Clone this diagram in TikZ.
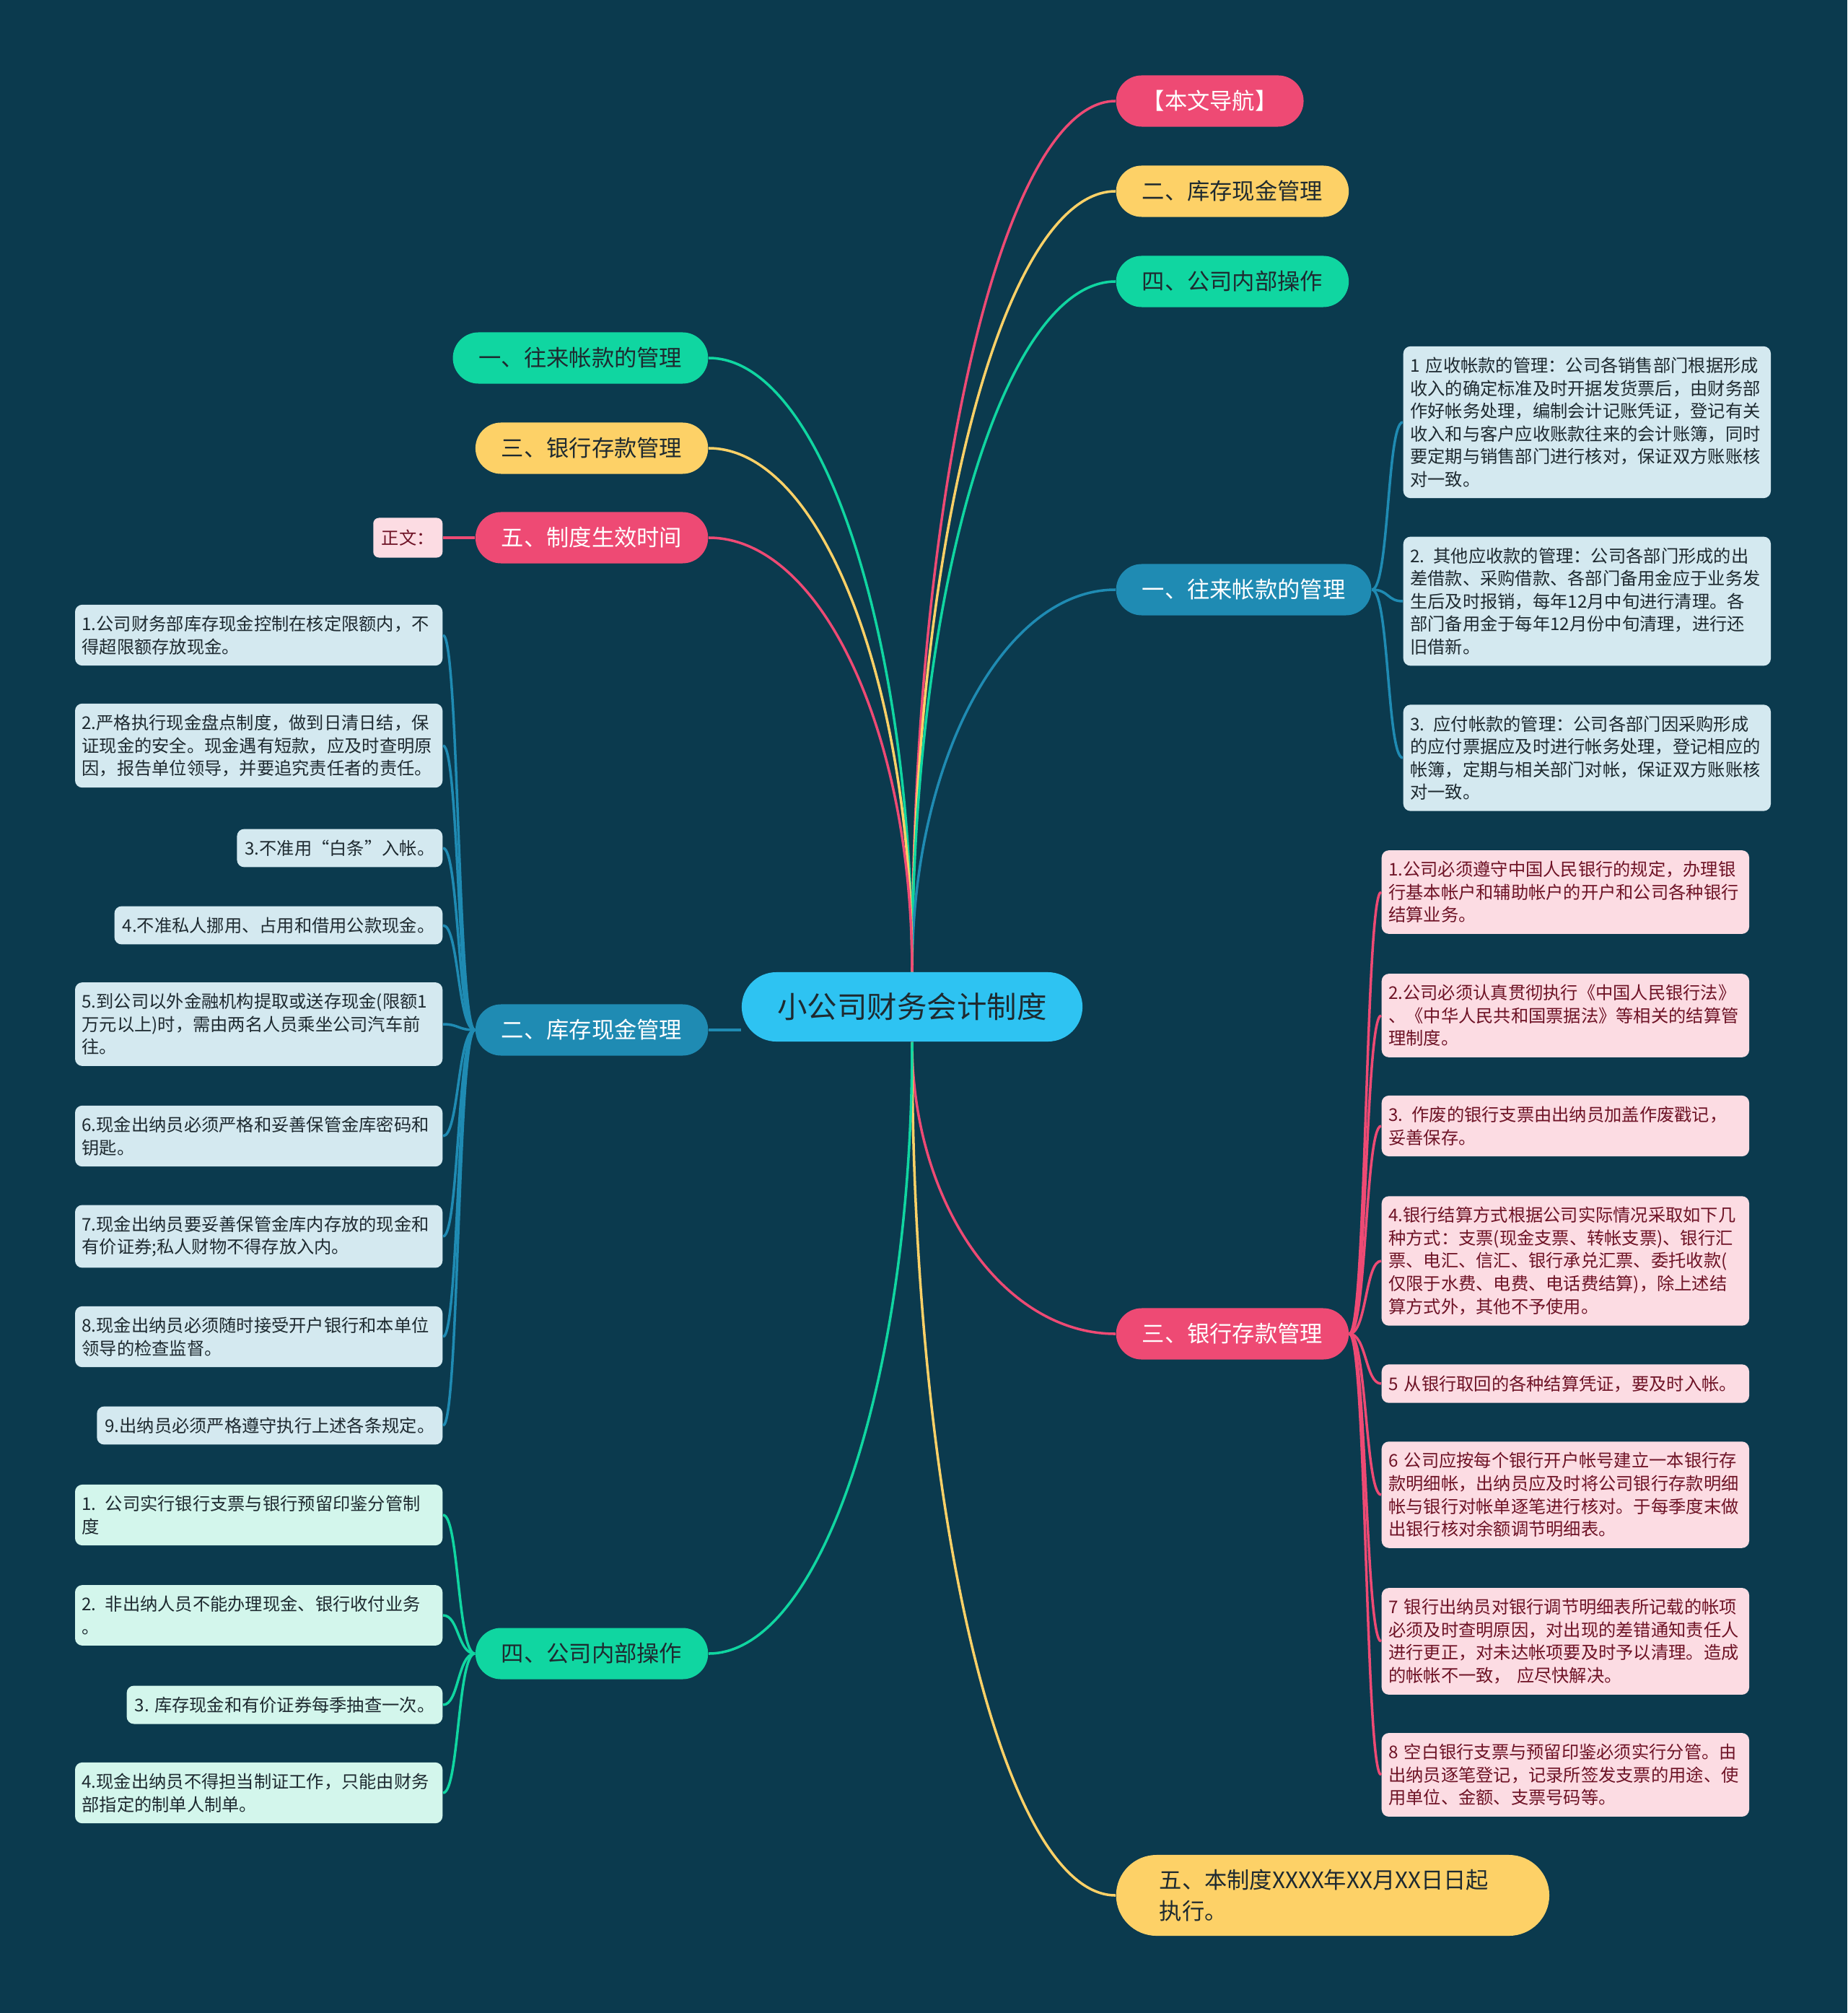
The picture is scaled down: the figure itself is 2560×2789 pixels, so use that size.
\documentclass[tikz,border=0pt]{standalone}
\usepackage{fontspec}
\setmainfont{Noto Sans CJK SC}
\usepackage{tikz}
\usetikzlibrary{calc,positioning}
\definecolor{bgC}{HTML}{0B3A4E}
\definecolor{rootC}{HTML}{2EC3F2}
\definecolor{pinkC}{HTML}{EE4A74}
\definecolor{yellowC}{HTML}{FDD167}
\definecolor{greenC}{HTML}{10D6A1}
\definecolor{blueC}{HTML}{1F8BB3}
\definecolor{leafB}{HTML}{D4E9F0}
\definecolor{leafP}{HTML}{FCDCE3}
\definecolor{leafG}{HTML}{D3F6EC}
\definecolor{inkD}{HTML}{1E2A30}
\definecolor{inkR}{HTML}{6E1326}

\begin{document}
\begin{tikzpicture}[x=0.01cm,y=-0.01cm,
  wire/.style={draw=#1,line width=1pt},
  root/.style={fill=rootC,text=inkD,rounded corners=0.48cm,minimum height=0.96cm,minimum width=4.72cm,
               font=\fontsize{11.8}{14}\selectfont},
  topic/.style={fill=#1,text=inkD,rounded corners=0.355cm,minimum height=0.71cm,inner xsep=0.36cm,
                inner ysep=0pt,font=\fontsize{8.9}{11}\selectfont},
  leaf/.style={fill=#1,rounded corners=0.1cm,text width=4.9cm,align=left,inner xsep=0.095cm,
               inner ysep=4.3pt,font=\fontsize{6.9}{8.96}\selectfont},
  twig/.style={fill=#1,rounded corners=0.1cm,align=left,inner xsep=0.11cm,inner ysep=4.3pt,
               font=\fontsize{6.9}{8.96}\selectfont}]
  \fill[bgC] (0,0) rectangle (2560,2789);
  \useasboundingbox (0,0) rectangle (2560,2789);
  \node[root] (C) at (1264,1395) {小公司财务会计制度};
  % right side
  \node[topic=pinkC,text=white,anchor=west] (nav) at (1546,140) {【本文导航】};
  \node[topic=yellowC,anchor=west] (R2) at (1546,265) {二、库存现金管理};
  \node[topic=greenC,anchor=west] (R4) at (1546,390) {四、公司内部操作};
  \node[topic=blueC,text=white,anchor=west] (R1) at (1546,817) {一、往来帐款的管理};
  \node[topic=pinkC,text=white,anchor=west] (R3) at (1546,1848) {三、银行存款管理};
  \node[topic=yellowC,anchor=west,text width=4.8cm,align=left,rounded corners=0.56cm,minimum height=1.12cm,
        inner xsep=0.6cm,font=\fontsize{8.9}{12.2}\selectfont] (R5) at (1546,2626)
        {五、本制度XXXX年XX月XX日日起\\执行。};
  % left side
  \node[topic=greenC,anchor=east] (L1) at (982,496) {一、往来帐款的管理};
  \node[topic=yellowC,anchor=east] (L3) at (982,621) {三、银行存款管理};
  \node[topic=pinkC,text=white,anchor=east] (L5) at (982,745) {五、制度生效时间};
  \node[topic=blueC,text=white,anchor=east] (L2) at (982,1427) {二、库存现金管理};
  \node[topic=greenC,anchor=east] (L4) at (982,2291) {四、公司内部操作};
  \node[twig=leafP,text=inkR,anchor=east,minimum width=0.96cm,minimum height=0.55cm,rounded corners=0.08cm]
        (zw) at (614,745) {正文：};
  % trunk
  \foreach \nd/\col/\sa/\ea in {nav/pinkC/north/west,R2/yellowC/north/west,R4/greenC/north/west,
      R1/blueC/north/west,L1/greenC/north/east,L3/yellowC/north/east,L5/pinkC/north/east,
      R3/pinkC/south/west,R5/yellowC/south/west,L4/greenC/south/east}{
    \coordinate (s) at (C.\sa);
    \coordinate (e) at (\nd.\ea);
    \draw[wire=\col] (s) .. controls ($(s)!0.552!(s |- e)$) and ($(e)!0.552!(s |- e)$) .. (e);
  }
  \draw[wire=blueC] (L2.east) -- (L2.east -| C.west);
  \draw[wire=pinkC] (zw.east) -- (L5.west);
  % accounts
  \node[leaf=leafB,text=inkD,anchor=west] (r1) at (1944,585) {1 应收帐款的管理：公司各销售部门根据形成\\收入的确定标准及时开据发货票后，由财务部\\作好帐务处理，编制会计记账凭证，登记有关\\收入和与客户应收账款往来的会计账簿，同时\\要定期与销售部门进行核对，保证双方账账核\\对一致。};
  \node[leaf=leafB,text=inkD,anchor=west] (r2) at (1944,833) {2. 其他应收款的管理：公司各部门形成的出\\差借款、采购借款、各部门备用金应于业务发\\生后及时报销，每年12月中旬进行清理。各\\部门备用金于每年12月份中旬清理，进行还\\旧借新。};
  \node[leaf=leafB,text=inkD,anchor=west] (r3) at (1944,1050) {3. 应付帐款的管理：公司各部门因采购形成\\的应付票据应及时进行帐务处理，登记相应的\\帐簿，定期与相关部门对帐，保证双方账账核\\对一致。};
  \foreach \k in {r1,r2,r3} \draw[wire=blueC] (R1.east) .. controls +(24,0) and +(-22,0) .. (\k.west);
  % bank
  \node[leaf=leafP,text=inkR,anchor=west] (b1) at (1914,1236) {1.公司必须遵守中国人民银行的规定，办理银\\行基本帐户和辅助帐户的开户和公司各种银行\\结算业务。};
  \node[leaf=leafP,text=inkR,anchor=west] (b2) at (1914,1407) {2.公司必须认真贯彻执行《中国人民银行法》\\、《中华人民共和国票据法》等相关的结算管\\理制度。};
  \node[leaf=leafP,text=inkR,anchor=west] (b3) at (1914,1560) {3. 作废的银行支票由出纳员加盖作废戳记，\\妥善保存。};
  \node[leaf=leafP,text=inkR,anchor=west] (b4) at (1914,1747) {4.银行结算方式根据公司实际情况采取如下几\\种方式：支票(现金支票、转帐支票)、银行汇\\票、电汇、信汇、银行承兑汇票、委托收款(\\仅限于水费、电费、电话费结算)，除上述结\\算方式外，其他不予使用。};
  \node[leaf=leafP,text=inkR,anchor=west] (b5) at (1914,1917) {5 从银行取回的各种结算凭证，要及时入帐。};
  \node[leaf=leafP,text=inkR,anchor=west] (b6) at (1914,2071) {6 公司应按每个银行开户帐号建立一本银行存\\款明细帐，出纳员应及时将公司银行存款明细\\帐与银行对帐单逐笔进行核对。于每季度末做\\出银行核对余额调节明细表。};
  \node[leaf=leafP,text=inkR,anchor=west] (b7) at (1914,2274) {7 银行出纳员对银行调节明细表所记载的帐项\\必须及时查明原因，对出现的差错通知责任人\\进行更正，对未达帐项要及时予以清理。造成\\的帐帐不一致， 应尽快解决。};
  \node[leaf=leafP,text=inkR,anchor=west] (b8) at (1914,2459) {8 空白银行支票与预留印鉴必须实行分管。由\\出纳员逐笔登记，记录所签发支票的用途、使\\用单位、金额、支票号码等。};
  \foreach \k in {b1,b2,b3,b4,b5,b6,b7,b8} \draw[wire=pinkC] (R3.east) .. controls +(24,0) and +(-22,0) .. (\k.west);
  % cash
  \node[leaf=leafB,text=inkD,anchor=east] (c1) at (614,880) {1.公司财务部库存现金控制在核定限额内，不\\得超限额存放现金。};
  \node[leaf=leafB,text=inkD,anchor=east] (c2) at (614,1033) {2.严格执行现金盘点制度，做到日清日结，保\\证现金的安全。现金遇有短款，应及时查明原\\因，报告单位领导，并要追究责任者的责任。};
  \node[twig=leafB,text=inkD,anchor=east] (c3) at (614,1175) {3.不准用“白条”入帐。};
  \node[twig=leafB,text=inkD,anchor=east] (c4) at (614,1282) {4.不准私人挪用、占用和借用公款现金。};
  \node[leaf=leafB,text=inkD,anchor=east] (c5) at (614,1419) {5.到公司以外金融机构提取或送存现金(限额1\\万元以上)时，需由两名人员乘坐公司汽车前\\往。};
  \node[leaf=leafB,text=inkD,anchor=east] (c6) at (614,1574) {6.现金出纳员必须严格和妥善保管金库密码和\\钥匙。};
  \node[leaf=leafB,text=inkD,anchor=east] (c7) at (614,1713) {7.现金出纳员要妥善保管金库内存放的现金和\\有价证券;私人财物不得存放入内。};
  \node[leaf=leafB,text=inkD,anchor=east] (c8) at (614,1852) {8.现金出纳员必须随时接受开户银行和本单位\\领导的检查监督。};
  \node[twig=leafB,text=inkD,anchor=east] (c9) at (614,1975) {9.出纳员必须严格遵守执行上述各条规定。};
  \foreach \k in {c1,c2,c3,c4,c5,c6,c7,c8,c9} \draw[wire=blueC] (L2.west) .. controls +(-24,0) and +(22,0) .. (\k.east);
  % operations
  \node[leaf=leafG,text=inkD,anchor=east] (o1) at (614,2099) {1. 公司实行银行支票与银行预留印鉴分管制\\度};
  \node[leaf=leafG,text=inkD,anchor=east] (o2) at (614,2238) {2. 非出纳人员不能办理现金、银行收付业务\\。};
  \node[twig=leafG,text=inkD,anchor=east] (o3) at (614,2362) {3. 库存现金和有价证券每季抽查一次。};
  \node[leaf=leafG,text=inkD,anchor=east] (o4) at (614,2484) {4.现金出纳员不得担当制证工作，只能由财务\\部指定的制单人制单。};
  \foreach \k in {o1,o2,o3,o4} \draw[wire=greenC] (L4.west) .. controls +(-24,0) and +(22,0) .. (\k.east);
\end{tikzpicture}
\end{document}
